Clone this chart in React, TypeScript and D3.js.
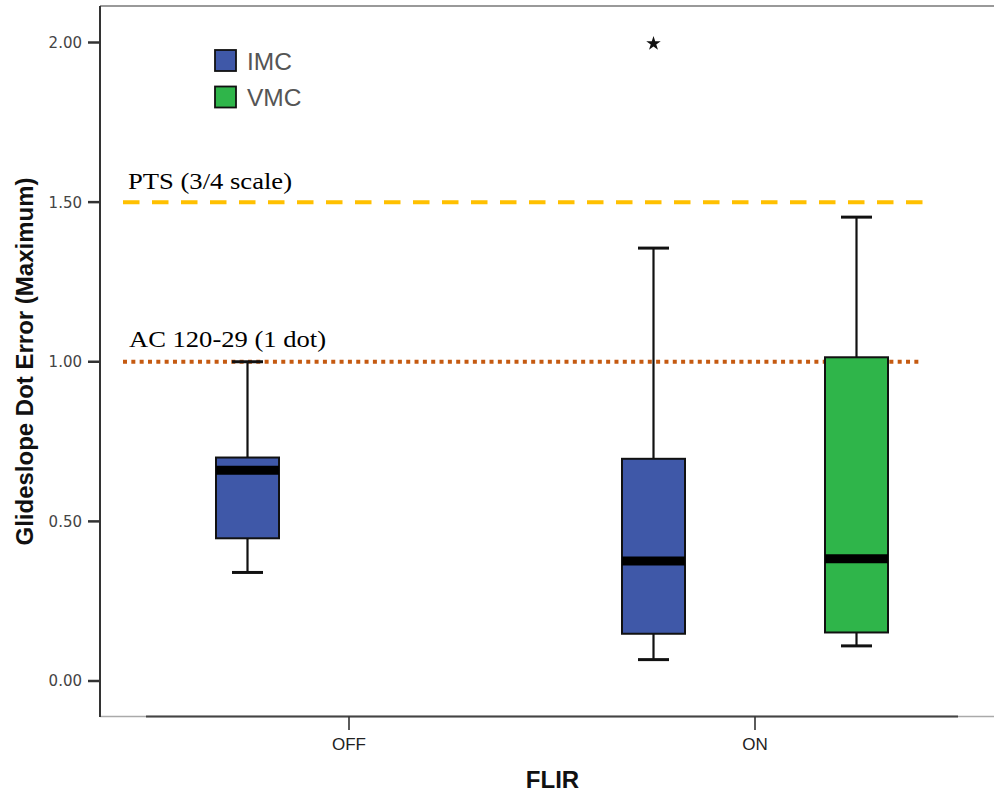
import React from "react";
import * as d3 from "d3";

const categories = ["OFF", "ON"];
const groups = ["IMC", "VMC"];
const groupColors = ["#3F58A8", "#2FB54A"];
// box stats: [category, group, min, q1, median, q3, max]
const boxCategory = ["OFF", "ON", "ON"];
const boxGroup = ["IMC", "IMC", "VMC"];
const boxMin = [0.34, 0.067, 0.11];
const boxQ1 = [0.447, 0.148, 0.152];
const boxMedian = [0.66, 0.376, 0.383];
const boxQ3 = [0.70, 0.696, 1.014];
const boxMax = [1.0, 1.356, 1.453];
const outlierCategory = ["ON"];
const outlierGroup = ["IMC"];
const outlierValue = [2.0];
const yTicks = [0, 0.5, 1.0, 1.5, 2.0];
const refValues = [1.5, 1.0];
const refLabels = ["PTS (3/4 scale)", "AC 120-29 (1 dot)"];

export default function App() {
  const W = 994, H = 793;
  const x = d3.scaleBand().domain(categories).range([146, 958]);
  const xs = d3.scalePoint().domain(groups).range([0, x.bandwidth()]).padding(0.5);
  const y = d3.scaleLinear().domain([0, 2]).range([681, 42.5]);
  const color = d3.scaleOrdinal<string, string>().domain(groups).range(groupColors);
  const bw = 63;
  const capW = 31;
  const star = d3.symbol().type(d3.symbolStar).size(65)();
  const cx = (c: string, g: string) => (x(c) as number) + (xs(g) as number);

  return (
    <svg width={W} height={H} style={{ position: "absolute", left: 0, top: 0, background: "#fff" }}>
      {/* frame */}
      <line x1={100} y1={6} x2={994} y2={6} stroke="#777" strokeWidth={1.6} />
      <line x1={100} y1={716.5} x2={994} y2={716.5} stroke="#aaa" strokeWidth={1.6} />
      <line x1={x.range()[0]} y1={716.5} x2={x.range()[1]} y2={716.5} stroke="#444" strokeWidth={1.8} />
      <line x1={100} y1={6} x2={100} y2={717} stroke="#333" strokeWidth={2} />

      {/* y ticks */}
      {yTicks.map((t) => (
        <g key={t}>
          <line x1={88} x2={100} y1={y(t)} y2={y(t)} stroke="#333" strokeWidth={2.5} />
          <text x={82} y={y(t)} dy="0.36em" textAnchor="end" fontFamily="DejaVu Sans, sans-serif" fontSize={15} fill="#444">
            {d3.format(".2f")(t)}
          </text>
        </g>
      ))}

      {/* x ticks */}
      {categories.map((c) => {
        const cxx = (x(c) as number) + x.bandwidth() / 2;
        return (
          <g key={c}>
            <line x1={cxx} x2={cxx} y1={716.5} y2={730} stroke="#333" strokeWidth={1.6} />
            <text x={cxx} y={750} textAnchor="middle" fontFamily="Liberation Sans, Arial, sans-serif" fontSize={17} fill="#222">
              {c}
            </text>
          </g>
        );
      })}

      {/* axis titles */}
      <text x={552.5} y={788} textAnchor="middle" fontFamily="Liberation Sans, Arial, sans-serif" fontWeight="bold" fontSize={24} fill="#111">
        FLIR
      </text>
      <text transform={`translate(33,${361.5}) rotate(-90)`} textAnchor="middle" fontFamily="Liberation Sans, Arial, sans-serif" fontWeight="bold" fontSize={24} fill="#111">
        Glideslope Dot Error (Maximum)
      </text>

      {/* reference lines */}
      <line x1={123} x2={926} y1={y(refValues[0])} y2={y(refValues[0])} stroke="#FFC000" strokeWidth={4} strokeDasharray="16.5 12.5" />
      <line x1={123} x2={919} y1={y(refValues[1])} y2={y(refValues[1])} stroke="#C55A11" strokeWidth={4} strokeDasharray="4 4.33" />
      <text x={128} y={189} fontFamily="'Liberation Serif', 'Times New Roman', serif" fontSize={23} fill="#000" textLength={164} lengthAdjust="spacingAndGlyphs">
        {refLabels[0]}
      </text>
      <text x={129} y={347} fontFamily="'Liberation Serif', 'Times New Roman', serif" fontSize={23} fill="#000" textLength={197} lengthAdjust="spacingAndGlyphs">
        {refLabels[1]}
      </text>

      {/* boxes */}
      {boxCategory.map((c, i) => {
        const g = boxGroup[i];
        const c0 = cx(c, g);
        return (
          <g key={i}>
            <line x1={c0} x2={c0} y1={y(boxMax[i])} y2={y(boxQ3[i])} stroke="#111" strokeWidth={2.2} />
            <line x1={c0} x2={c0} y1={y(boxQ1[i])} y2={y(boxMin[i])} stroke="#111" strokeWidth={2.2} />
            <line x1={c0 - capW / 2} x2={c0 + capW / 2} y1={y(boxMax[i])} y2={y(boxMax[i])} stroke="#111" strokeWidth={3} />
            <line x1={c0 - capW / 2} x2={c0 + capW / 2} y1={y(boxMin[i])} y2={y(boxMin[i])} stroke="#111" strokeWidth={3} />
            <rect x={c0 - bw / 2} y={y(boxQ3[i])} width={bw} height={y(boxQ1[i]) - y(boxQ3[i])} fill={color(g)} stroke="#111" strokeWidth={2} />
            <line x1={c0 - bw / 2} x2={c0 + bw / 2} y1={y(boxMedian[i])} y2={y(boxMedian[i])} stroke="#000" strokeWidth={9} />
          </g>
        );
      })}

      {/* outliers */}
      {outlierCategory.map((c, i) => (
        <path key={i} d={star as string} transform={`translate(${cx(c, outlierGroup[i])},${y(outlierValue[i]) + 1})`} fill="#111" />
      ))}

      {/* legend */}
      {groups.map((g, i) => (
        <g key={g}>
          <rect x={215} y={50 + i * 36.5} width={21} height={21} fill={color(g)} stroke="#111" strokeWidth={1.8} />
          <text x={247} y={70 + i * 36} fontFamily="'Liberation Sans', Arial, sans-serif" fontSize={24.5} fill="#555">
            {g}
          </text>
        </g>
      ))}
    </svg>
  );
}
